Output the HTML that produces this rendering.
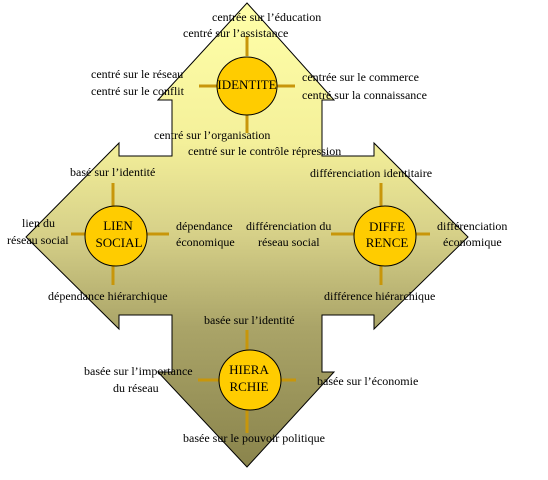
<!DOCTYPE html>
<html><head><meta charset="utf-8"><style>
html,body{margin:0;padding:0;background:#fff;}
svg text{font-family:"Liberation Serif",serif;font-size:12px;fill:#000;}
.c{font-size:13px;text-anchor:middle;}
</style></head><body>
<svg width="548" height="475" viewBox="0 0 548 475" xmlns="http://www.w3.org/2000/svg">
<defs>
<linearGradient id="g" x1="0" y1="3" x2="0" y2="467" gradientUnits="userSpaceOnUse">
<stop offset="0" stop-color="#ffffa8"/>
<stop offset="0.3" stop-color="#f4f09a"/>
<stop offset="0.5" stop-color="#d6d088"/>
<stop offset="0.7" stop-color="#aaa468"/>
<stop offset="1" stop-color="#8a844c"/>
</linearGradient>
</defs>
<path d="M247,3 L334,100 L322,100 L322,156 L374,156 L374,143 L468,237 L374,329 L374,315 L322,315 L322,372 L334,372 L247,467 L158,372 L172,372 L172,315 L119,315 L119,329 L26,237 L119,143 L119,156 L172,156 L172,100 L158,100 Z" fill="url(#g)" stroke="#000" stroke-width="1"/>
<g stroke="#c8960a" stroke-width="3">
<line x1="247" y1="36" x2="247" y2="56"/><line x1="247" y1="113" x2="247" y2="133"/>
<line x1="199" y1="86" x2="218" y2="86"/><line x1="276" y1="86" x2="295" y2="86"/>
<line x1="113" y1="183" x2="113" y2="207"/><line x1="113" y1="266" x2="113" y2="285"/>
<line x1="71" y1="234" x2="86" y2="234"/><line x1="146" y1="234" x2="169" y2="234"/>
<line x1="381" y1="183" x2="381" y2="207"/><line x1="381" y1="266" x2="381" y2="285"/>
<line x1="331" y1="234" x2="355" y2="234"/><line x1="414" y1="234" x2="430" y2="234"/>
<line x1="247" y1="330" x2="247" y2="350"/><line x1="247" y1="410" x2="247" y2="433"/>
<line x1="198" y1="380" x2="219" y2="380"/><line x1="281" y1="380" x2="296" y2="380"/>
</g>
<g fill="#ffcc00" stroke="#000" stroke-width="1">
<ellipse cx="247" cy="86" rx="30" ry="29"/>
<ellipse cx="116" cy="236" rx="31" ry="30"/>
<ellipse cx="385" cy="236" rx="31" ry="30"/>
<ellipse cx="250" cy="380" rx="31" ry="30"/>
</g>
<text class="c" x="247" y="89">IDENTITE</text>
<text class="c" x="118" y="230">LIEN</text><text class="c" x="119" y="247">SOCIAL</text>
<text class="c" x="387" y="231">DIFFE</text><text class="c" x="387" y="247">RENCE</text>
<text class="c" x="249" y="374">HIERA</text><text class="c" x="249" y="391">RCHIE</text>

<text x="212" y="21">centrée sur l’éducation</text>
<text x="183" y="37">centré sur l’assistance</text>
<text x="91" y="78">centré sur le réseau</text>
<text x="91" y="95">centré sur le conflit</text>
<text x="302" y="81">centrée sur le commerce</text>
<text x="302" y="99">centré sur la connaissance</text>
<text x="154" y="139">centré sur l’organisation</text>
<text x="188" y="155">centré sur le contrôle répression</text>
<text x="70" y="176">basé sur l’identité</text>
<text x="310" y="177">différenciation identitaire</text>
<text x="22" y="227">lien du</text>
<text x="7" y="244">réseau social</text>
<text x="176" y="230">dépendance</text>
<text x="176" y="246">économique</text>
<text x="246" y="230">différenciation du</text>
<text x="258" y="246">réseau social</text>
<text x="437" y="230">différenciation</text>
<text x="443" y="246">économique</text>
<text x="48" y="300">dépendance hiérarchique</text>
<text x="324" y="300">différence hiérarchique</text>
<text x="204" y="324">basée sur l’identité</text>
<text x="84" y="375">basée sur l’importance</text>
<text x="113" y="392">du réseau</text>
<text x="317" y="385">basée sur l’économie</text>
<text x="183" y="442">basée sur le pouvoir politique</text>
</svg>
</body></html>
